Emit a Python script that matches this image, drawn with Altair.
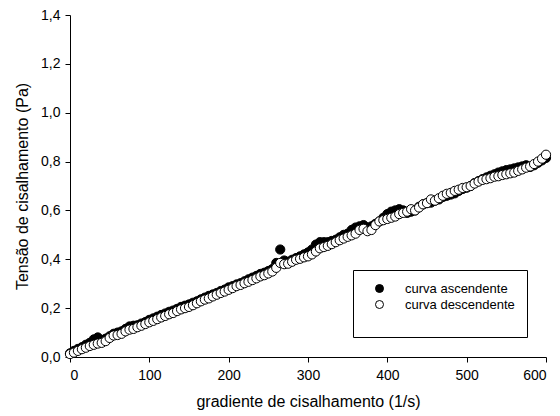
import altair as alt
import pandas as pd

x_vals = list(range(0, 601, 5))

y_asc = [0.015, 0.025, 0.033, 0.040, 0.050, 0.058, 0.072, 0.080, 0.070, 0.075,
         0.085, 0.095, 0.100, 0.105, 0.115, 0.125, 0.128, 0.130, 0.137, 0.143,
         0.152, 0.158, 0.165, 0.172, 0.178, 0.185, 0.190, 0.197, 0.205, 0.210,
         0.215, 0.222, 0.228, 0.236, 0.243, 0.250, 0.256, 0.262, 0.270, 0.276,
         0.285, 0.290, 0.297, 0.302, 0.310, 0.318, 0.325, 0.332, 0.340, 0.345,
         0.352, 0.360, 0.385, 0.440, 0.395, 0.390, 0.398, 0.405, 0.412, 0.420,
         0.428, 0.440, 0.460, 0.470, 0.470, 0.470, 0.475, 0.480, 0.490, 0.500,
         0.505, 0.520, 0.530, 0.535, 0.540, 0.530, 0.535, 0.545, 0.555, 0.570,
         0.585, 0.595, 0.600, 0.605, 0.600, 0.590, 0.595, 0.600, 0.615, 0.625,
         0.630, 0.632, 0.640, 0.645, 0.655, 0.660, 0.665, 0.670, 0.680, 0.688,
         0.693, 0.700, 0.712, 0.720, 0.728, 0.735, 0.742, 0.748, 0.755, 0.760,
         0.765, 0.768, 0.772, 0.776, 0.780, 0.785, 0.778, 0.785, 0.795, 0.805,
         0.815]

y_desc = [0.012, 0.018, 0.025, 0.032, 0.038, 0.045, 0.050, 0.055, 0.058, 0.065,
          0.078, 0.088, 0.090, 0.095, 0.105, 0.112, 0.115, 0.122, 0.128, 0.135,
          0.142, 0.148, 0.155, 0.162, 0.168, 0.175, 0.180, 0.188, 0.195, 0.200,
          0.205, 0.212, 0.220, 0.228, 0.235, 0.240, 0.248, 0.255, 0.262, 0.268,
          0.275, 0.282, 0.290, 0.295, 0.302, 0.308, 0.315, 0.322, 0.330, 0.335,
          0.342, 0.350, 0.365, 0.385, 0.380, 0.382, 0.390, 0.398, 0.402, 0.408,
          0.412, 0.420, 0.432, 0.445, 0.450, 0.455, 0.462, 0.470, 0.478, 0.485,
          0.492, 0.498, 0.505, 0.520, 0.525, 0.515, 0.520, 0.540, 0.555, 0.560,
          0.565, 0.570, 0.575, 0.585, 0.590, 0.595, 0.605, 0.600, 0.612, 0.625,
          0.630, 0.645, 0.640, 0.650, 0.660, 0.668, 0.672, 0.680, 0.685, 0.692,
          0.695, 0.700, 0.710, 0.718, 0.725, 0.728, 0.732, 0.738, 0.740, 0.745,
          0.748, 0.752, 0.755, 0.762, 0.768, 0.775, 0.780, 0.790, 0.800, 0.812,
          0.828]

series = ["curva ascendente", "curva descendente"]

df = pd.concat([
    pd.DataFrame({"x": x_vals, "y": y_asc, "curva": series[0]}),
    pd.DataFrame({"x": x_vals, "y": y_desc, "curva": series[1]}),
], ignore_index=True)

FONT = "Liberation Sans"

chart = alt.Chart(df).mark_point(
    filled=True, stroke="black", strokeWidth=1, size=85, opacity=1, shape="circle"
).encode(
    x=alt.X("x:Q", scale=alt.Scale(domain=[0, 600], nice=False),
            axis=alt.Axis(title="gradiente de cisalhamento (1/s)", values=[0, 100, 200, 300, 400, 500, 600],
                          grid=False, domainColor="black", tickColor="black", tickSize=5,
                          labelColor="black", labelFontSize=14, labelFont=FONT, labelPadding=6,
                          titleFont=FONT, titleFontSize=16, titleFontWeight="normal",
                          titleColor="black", titlePadding=11)),
    y=alt.Y("y:Q", scale=alt.Scale(domain=[0, 1.4], nice=False),
            axis=alt.Axis(title="Tensão de cisalhamento (Pa)", values=[0, 0.2, 0.4, 0.6, 0.8, 1.0, 1.2, 1.4],
                          labelExpr="replace(format(datum.value, '.1f'), '.', ',')",
                          grid=False, domainColor="black", tickColor="black", tickSize=5,
                          labelColor="black", labelFontSize=14, labelFont=FONT, labelPadding=5,
                          titleFont=FONT, titleFontSize=16, titleFontWeight="normal",
                          titleColor="black", titlePadding=10)),
    fill=alt.Fill("curva:N", scale=alt.Scale(domain=series, range=["black", "white"]),
                  legend=alt.Legend(title=" ", titleOrient="bottom", titleFontSize=12, titlePadding=2,
                                    orient="none", legendX=283, legendY=255,
                                    strokeColor="black", fillColor="white", padding=12,
                                    symbolType="circle", symbolSize=64, symbolStrokeColor="black",
                                    symbolStrokeWidth=1, symbolOffset=8, labelFont=FONT, labelFontSize=13,
                                    labelColor="black", labelOffset=19, rowPadding=2,
                                    cornerRadius=0)),
).properties(
    width=476, height=342,
    padding={"left": 70, "top": 15, "right": 14, "bottom": 59},
    autosize=alt.AutoSizeParams(type="none"),
).configure_view(stroke=None)

chart.save("out.html", embed_options={"renderer": "svg", "actions": False})
